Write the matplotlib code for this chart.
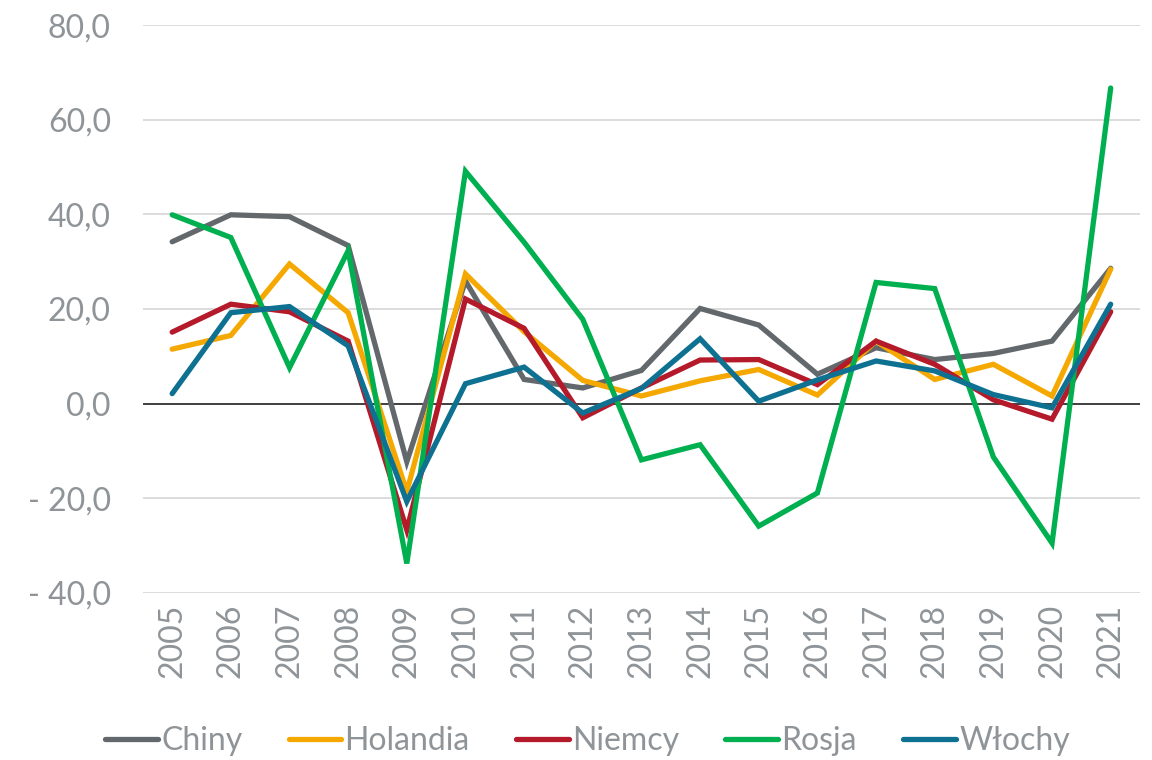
import numpy as np
import matplotlib
matplotlib.use("Agg")
import matplotlib.pyplot as plt
from matplotlib.ticker import FuncFormatter

plt.rcParams['font.family'] = ['Lato', 'DejaVu Sans']

# dane
lata = [str(r) for r in range(2005, 2022)]
chiny = [34.2, 39.9, 39.5, 33.4, -12.3, 25.9, 5.1, 3.3, 7.0, 20.1, 16.6, 6.2, 11.8, 9.3, 10.6, 13.2, 28.6]
holandia = [11.5, 14.4, 29.5, 19.2, -18.6, 27.4, 15.2, 4.9, 1.6, 4.8, 7.2, 1.8, 13.2, 5.1, 8.3, 1.6, 28.4]
niemcy = [15.1, 21.0, 19.4, 13.2, -26.7, 22.1, 15.9, -3.0, 3.3, 9.2, 9.3, 4.0, 13.2, 8.3, 0.8, -3.3, 19.4]
rosja = [39.9, 35.1, 7.6, 32.3, -33.8, 49.1, 34.1, 17.8, -11.9, -8.7, -25.9, -18.9, 25.6, 24.3, -11.3, -29.5, 66.7]
wlochy = [2.1, 19.2, 20.5, 12.2, -20.7, 4.2, 7.7, -2.0, 3.2, 13.7, 0.5, 5.0, 9.0, 6.9, 1.9, -0.9, 21.0]

serie = [
    ("Chiny", chiny, "#62686B"),
    ("Holandia", holandia, "#F5A800"),
    ("Niemcy", niemcy, "#B41A2A"),
    ("Rosja", rosja, "#00B050"),
    ("Włochy", wlochy, "#0E7191"),
]

szary = "#8E9498"

fig = plt.figure(figsize=(11.52, 7.6), dpi=100)
ax = fig.add_axes([0.124, 0.22, 0.8656, 0.747])

x = np.arange(len(lata))
for nazwa, wart, kolor in serie:
    ax.plot(x, wart, color=kolor, linewidth=3.8, label=nazwa, solid_capstyle='round', solid_joinstyle='miter', zorder=3)

ax.set_ylim(-40, 80)
ax.set_xlim(-0.5, len(lata) - 0.5)
ax.set_yticks(np.arange(-40, 81, 20))
ax.grid(axis='y', color='#D9D9D9', linewidth=1.3, zorder=0)
ax.axhline(0, color='#404040', linewidth=1.4, zorder=2)

def fmt(v, pos):
    s = f"{abs(v):.1f}".replace('.', ',')
    return f"- {s}" if v < 0 else s

ax.yaxis.set_major_formatter(FuncFormatter(fmt))
ax.set_xticks(x)
ax.set_xticklabels(lata, rotation=90)
ax.tick_params(axis='both', length=0, labelsize=23, colors=szary)
ax.tick_params(axis='y', pad=23)
ax.tick_params(axis='x', pad=8)
for s in ax.spines.values():
    s.set_visible(False)

leg = fig.legend(loc='center', bbox_to_anchor=(0.51, 0.025), ncol=5, frameon=False,
                 fontsize=23, handlelength=1.65, handletextpad=0.1, columnspacing=1.45)
for t in leg.get_texts():
    t.set_color(szary)

fig.savefig("out.png", dpi=100)
